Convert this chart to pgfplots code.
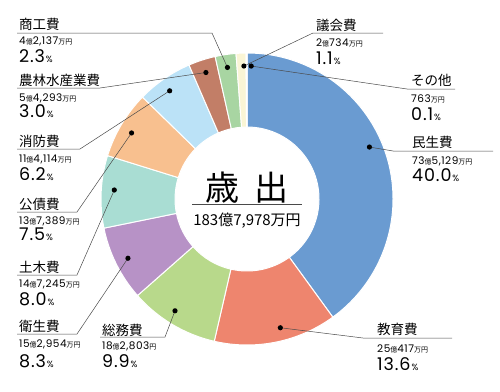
\documentclass[border=0pt]{standalone}
\usepackage{pgfplots}
\pgfplotsset{compat=1.18}
\usepackage{pgfplotstable}
\usepackage{fontspec}
\setmainfont{Noto Sans CJK JP}
\newfontfamily\numfont{Poppins}
\newfontfamily\numfontw{Poppins}[LetterSpace=5]
\definecolor{c0}{HTML}{6A9BD1}
\definecolor{c1}{HTML}{EE856E}
\definecolor{c2}{HTML}{B8D98B}
\definecolor{c3}{HTML}{B792C6}
\definecolor{c4}{HTML}{A9DDD3}
\definecolor{c5}{HTML}{F8C08F}
\definecolor{c6}{HTML}{BBE2F7}
\definecolor{c7}{HTML}{C27E67}
\definecolor{c8}{HTML}{A8D5A2}
\definecolor{c9}{HTML}{FAF5D5}
\definecolor{c10}{HTML}{F4F4F4}
\definecolor{lead}{HTML}{4A4A4A}
% pct: share in percent; doff: leader angle offset; lx,ly: leader end at underline; ux: other end of underline
\pgfplotstableread{
idx pct doff lx ly ux
0 40.0 5 393 151 493
1 13.6 3 363 338 452
2 9.9 -2 165 337 100
3 8.3 0 77 334 17
4 8.0 -1 77 275 17
5 7.5 1 77 212 17
6 6.2 1 80 149 17
7 3.0 0 100 88 17
8 2.3 0 212 33 17
9 1.1 -1 313 33 383
10 0.1 -2 407 89 455
}\spend
\newcommand\N[1]{{\numfontw\fontsize{10.5}{11}\selectfont #1}}
\newcommand\Sm[1]{{\fontsize{7}{8}\selectfont #1}}
\newcommand\pc[1]{{\numfontw\fontsize{17.5}{18}\selectfont #1}\hspace{1pt}{\numfont\fontsize{9}{9}\selectfont\%}}
\newcommand\nm[1]{{\fontsize{13.5}{14}\selectfont #1}}
\begin{document}
\begin{tikzpicture}
\begin{axis}[x=1pt,y=1pt,xmin=0,xmax=500,ymin=0,ymax=391,y dir=reverse,
  hide axis,clip=false]
\path[draw=none] (axis cs:0,0) rectangle (axis cs:500,391);
\def\cx{247}\def\cy{199}
\def\cum{0}
\pgfplotsforeachungrouped \i in {0,...,10}{%
  \pgfplotstablegetelem{\i}{pct}\of\spend \let\p=\pgfplotsretval
  \pgfmathsetmacro\aone{90-3.6*\cum}%
  \pgfmathsetmacro\atwo{90-3.6*(\cum+\p)}%
  \pgfmathsetmacro\cum{\cum+\p}%
  \edef\temp{\noexpand\fill[c\i, draw=white, line width=1pt, shift={(axis cs:\cx,\cy)}]
     (\aone:146pt) arc[start angle=\aone, end angle=\atwo, radius=146pt]
     -- (\atwo:72pt) arc[start angle=\atwo, end angle=\aone, radius=72pt] -- cycle;}%
  \temp
}
\def\cumb{0}
\pgfplotsforeachungrouped \i in {0,...,10}{%
  \pgfplotstablegetelem{\i}{pct}\of\spend \let\p=\pgfplotsretval
  \pgfplotstablegetelem{\i}{doff}\of\spend \let\d=\pgfplotsretval
  \pgfplotstablegetelem{\i}{lx}\of\spend \let\lx=\pgfplotsretval
  \pgfplotstablegetelem{\i}{ly}\of\spend \let\ly=\pgfplotsretval
  \pgfplotstablegetelem{\i}{ux}\of\spend \let\ux=\pgfplotsretval
  \pgfmathsetmacro\aone{90-3.6*\cumb}%
  \pgfmathsetmacro\atwo{90-3.6*(\cumb+\p)}%
  \pgfmathsetmacro\amid{(\aone+\atwo)/2+\d}%
  \pgfmathsetmacro\cumb{\cumb+\p}%
  \edef\temp{\noexpand\draw[lead, line width=0.5pt]
     (axis cs:\ux,\ly) -- (axis cs:\lx,\ly) -- ([shift={(axis cs:\cx,\cy)}]\amid:133pt);
     \noexpand\fill[black] ([shift={(axis cs:\cx,\cy)}]\amid:133pt) circle[radius=2.6pt];}%
  \temp
}
% centre
\node[anchor=base, inner sep=0] at (axis cs:247,200) {\fontsize{34}{36}\selectfont 歳\hspace{16pt}出};
\draw[lead, line width=0.7pt] (axis cs:192,204.5) -- (axis cs:302,204.5);
\node[anchor=base, inner sep=0] at (axis cs:247,225) {\fontsize{15}{16}\selectfont 183億7,978万円};
% labels
\tikzset{lb/.style={anchor=base west, inner sep=0}}
\node[lb] at (axis cs:19,29) {\nm{商工費}};
\node[lb] at (axis cs:19,44) {\N{4}\Sm{億}\N{2,137}\Sm{万円}};
\node[lb] at (axis cs:19,62) {\pc{2.3}};
\node[lb] at (axis cs:19,85) {\nm{農林水産業費}};
\node[lb] at (axis cs:19,101) {\N{5}\Sm{億}\N{4,293}\Sm{万円}};
\node[lb] at (axis cs:19,117) {\pc{3.0}};
\node[lb] at (axis cs:19,146) {\nm{消防費}};
\node[lb] at (axis cs:19,162) {\N{11}\Sm{億}\N{4,114}\Sm{万円}};
\node[lb] at (axis cs:19,180) {\pc{6.2}};
\node[lb] at (axis cs:19,209) {\nm{公債費}};
\node[lb] at (axis cs:19,224) {\N{13}\Sm{億}\N{7,389}\Sm{万円}};
\node[lb] at (axis cs:19,240) {\pc{7.5}};
\node[lb] at (axis cs:19,272) {\nm{土木費}};
\node[lb] at (axis cs:19,287) {\N{14}\Sm{億}\N{7,245}\Sm{万円}};
\node[lb] at (axis cs:19,305) {\pc{8.0}};
\node[lb] at (axis cs:19,331) {\nm{衛生費}};
\node[lb] at (axis cs:19,347) {\N{15}\Sm{億}\N{2,954}\Sm{万円}};
\node[lb] at (axis cs:19,367) {\pc{8.3}};
\node[lb] at (axis cs:102,335) {\nm{総務費}};
\node[lb] at (axis cs:102,349) {\N{18}\Sm{億}\N{2,803}\Sm{円}};
\node[lb] at (axis cs:102,367) {\pc{9.9}};
\node[lb] at (axis cs:377,334) {\nm{教育費}};
\node[lb] at (axis cs:377,352) {\N{25}\Sm{億}\N{417}\Sm{万円}};
\node[lb] at (axis cs:377,370) {\pc{13.6}};
\node[lb] at (axis cs:412,147) {\nm{民生費}};
\node[lb] at (axis cs:412,164) {\N{73}\Sm{億}\N{5,129}\Sm{万円}};
\node[lb] at (axis cs:412,181) {\pc{40.0}};
\node[lb] at (axis cs:316,30) {\nm{議会費}};
\node[lb] at (axis cs:316,46) {\N{2}\Sm{億}\N{734}\Sm{万円}};
\node[lb] at (axis cs:316,64) {\pc{1.1}};
\node[lb] at (axis cs:411,85) {\nm{その他}};
\node[lb] at (axis cs:411,102) {\N{763}\Sm{万円}};
\node[lb] at (axis cs:411,120) {\pc{0.1}};
\end{axis}
\end{tikzpicture}
\end{document}
